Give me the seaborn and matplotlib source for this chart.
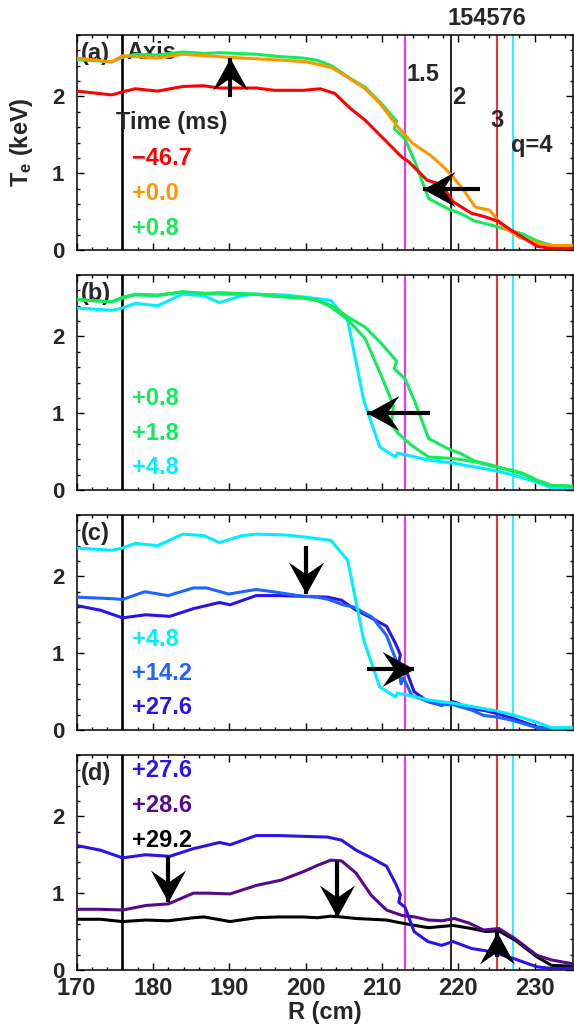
import numpy as np
import matplotlib
matplotlib.use("Agg")
import matplotlib.pyplot as plt
import seaborn as sns
from matplotlib.ticker import MultipleLocator
from matplotlib.path import Path

# ---------------- data: Te profiles vs major radius (cm, keV) ----------------
r_m467 = [170.0, 174.6, 176.0, 177.7, 180.6, 183.9, 186.6, 188.7, 193.5, 195.9, 199.7, 201.9, 203.8, 205.9,
          207.8, 210.2, 212.6, 213.5, 215.9, 217.8, 219.3, 221.7, 223.6, 225.3, 226.9, 230.3, 232.2, 235.0]
te_m467 = [2.07, 2.02, 2.06, 2.10, 2.07, 2.13, 2.14, 2.11, 2.11, 2.08, 2.08, 2.10, 2.04, 1.84,
           1.69, 1.45, 1.21, 1.15, 0.91, 0.85, 0.63, 0.48, 0.43, 0.37, 0.26, 0.05, 0.02, 0.02]

r_p00 = [170.0, 174.6, 176.0, 180.6, 183.9, 186.8, 190.1, 193.5, 197.3, 200.1, 203.3, 205.5, 207.8, 209.8,
         212.1, 214.0, 216.4, 218.3, 219.3, 220.7, 222.2, 224.1, 225.9, 227.9, 230.3, 232.2, 235.0]
te_p00 = [2.50, 2.45, 2.53, 2.50, 2.55, 2.53, 2.51, 2.49, 2.47, 2.45, 2.38, 2.25, 2.10, 1.90,
          1.60, 1.39, 1.23, 1.06, 0.95, 0.78, 0.56, 0.52, 0.30, 0.17, 0.09, 0.06, 0.06]

r_p08 = [170.0, 174.6, 176.0, 177.7, 180.6, 183.9, 186.8, 188.7, 193.5, 196.4, 199.7, 201.5, 203.4, 205.6,
         207.8, 209.9, 211.9, 211.6, 213.0, 214.3, 216.1, 218.8, 220.2, 222.1, 224.9, 226.9, 228.4, 230.3,
         232.2, 235.0]
te_p08 = [2.48, 2.45, 2.51, 2.55, 2.54, 2.58, 2.56, 2.57, 2.55, 2.52, 2.50, 2.47, 2.40, 2.25,
          2.12, 1.91, 1.68, 1.58, 1.45, 1.15, 0.67, 0.53, 0.48, 0.38, 0.31, 0.25, 0.21, 0.12,
          0.06, 0.05]

r_p18 = [170.0, 174.6, 176.0, 177.7, 180.6, 183.9, 186.8, 188.7, 193.5, 196.4, 199.7, 201.5, 203.4, 205.6,
         207.8, 209.9, 211.5, 211.2, 212.1, 213.9, 216.1, 219.3, 222.1, 224.9, 226.9, 228.4, 230.3, 232.2,
         235.0]
te_p18 = [2.48, 2.45, 2.50, 2.54, 2.53, 2.58, 2.56, 2.55, 2.55, 2.52, 2.50, 2.47, 2.38, 2.21,
          1.97, 1.49, 1.10, 0.85, 0.74, 0.58, 0.43, 0.41, 0.37, 0.30, 0.26, 0.22, 0.13, 0.06,
          0.05]

r_p48 = [170.0, 174.6, 176.0, 177.7, 180.6, 183.9, 186.7, 188.7, 191.6, 193.5, 197.3, 200.1, 203.3, 205.5,
         207.6, 209.7, 211.8, 212.0, 213.5, 216.1, 219.3, 222.1, 224.9, 227.4, 230.3, 232.2, 235.0]
te_p48 = [2.37, 2.34, 2.37, 2.43, 2.40, 2.55, 2.53, 2.44, 2.53, 2.55, 2.54, 2.51, 2.47, 2.21,
          1.17, 0.56, 0.43, 0.48, 0.45, 0.39, 0.35, 0.30, 0.25, 0.19, 0.10, 0.03, 0.03]

r_p142 = [170.0, 174.6, 176.0, 178.9, 182.0, 185.3, 187.0, 189.9, 193.5, 196.4, 199.7, 201.5, 203.0, 204.9,
          206.3, 208.7, 210.6, 212.1, 212.5, 212.8, 213.9, 216.1, 217.8, 219.3, 221.7, 223.3, 224.9, 226.9,
          230.3, 232.2, 235.0]
te_p142 = [1.73, 1.71, 1.70, 1.80, 1.75, 1.85, 1.85, 1.77, 1.83, 1.79, 1.74, 1.73, 1.70, 1.63,
           1.60, 1.47, 1.23, 0.84, 0.60, 0.68, 0.45, 0.37, 0.33, 0.33, 0.26, 0.19, 0.17, 0.13,
           0.03, 0.02, 0.02]

r_p276 = [170.0, 173.1, 176.0, 179.0, 182.2, 185.3, 188.7, 190.1, 193.5, 196.4, 199.7, 202.9, 204.7, 206.6,
          208.6, 210.6, 211.8, 212.4, 212.2, 213.0, 214.2, 216.0, 217.8, 219.3, 221.7, 223.6, 225.2, 227.2,
          230.3, 232.2, 235.0]
te_p276 = [1.62, 1.56, 1.46, 1.50, 1.48, 1.58, 1.66, 1.63, 1.75, 1.75, 1.74, 1.73, 1.69, 1.56,
           1.46, 1.35, 1.12, 0.98, 0.88, 0.82, 0.50, 0.37, 0.32, 0.37, 0.28, 0.25, 0.21, 0.15,
           0.04, 0.02, 0.02]

r_p286 = [170.0, 173.1, 176.0, 179.1, 182.0, 185.3, 187.2, 190.1, 193.5, 196.8, 199.7, 201.5, 203.3, 204.7,
          206.6, 208.6, 210.6, 212.6, 214.3, 216.1, 217.8, 219.5, 221.4, 223.3, 225.3, 227.4, 230.3, 232.2,
          235.0]
te_p286 = [0.79, 0.79, 0.78, 0.84, 0.86, 1.00, 1.00, 0.99, 1.10, 1.17, 1.28, 1.36, 1.43, 1.42,
           1.26, 0.97, 0.78, 0.71, 0.69, 0.65, 0.64, 0.67, 0.61, 0.52, 0.54, 0.41, 0.19, 0.13,
           0.08]

r_p292 = [170.0, 173.1, 176.0, 179.1, 182.0, 185.3, 186.7, 190.1, 193.5, 196.4, 199.7, 201.5, 203.3, 204.7,
          206.6, 210.6, 212.1, 214.3, 216.1, 219.3, 221.7, 223.6, 225.3, 227.4, 230.3, 232.2, 235.0]
te_p292 = [0.66, 0.66, 0.63, 0.65, 0.64, 0.68, 0.69, 0.63, 0.68, 0.69, 0.69, 0.68, 0.70, 0.69,
           0.67, 0.65, 0.62, 0.58, 0.55, 0.58, 0.54, 0.50, 0.51, 0.39, 0.17, 0.06, 0.05]

# magnetic axis and rational surfaces (cm)
r_axis = 176.0
q_surfaces = [213.0, 219.1, 225.1, 227.1]
q_colors = ["#ff00ff", "#000000", "#ff0000", "#00eeff"]

# time labels per panel (ms)
panel_times = [["\u221246.7", "+0.0", "+0.8"],
               ["+0.8", "+1.8", "+4.8"],
               ["+4.8", "+14.2", "+27.6"],
               ["+27.6", "+28.6", "+29.2"]]

profiles = {
    "\u221246.7": (r_m467, te_m467, "#ff0000"),
    "+0.0": (r_p00, te_p00, "#ff9600"),
    "+0.8": (r_p08, te_p08, "#14eb5a"),
    "+1.8": (r_p18, te_p18, "#14eb5a"),
    "+4.8": (r_p48, te_p48, "#00eeff"),
    "+14.2": (r_p142, te_p142, "#1e64ff"),
    "+27.6": (r_p276, te_p276, "#2a14ee"),
    "+28.6": (r_p286, te_p286, "#560a8a"),
    "+29.2": (r_p292, te_p292, "#000000"),
}

# label positions (R, Te) of the time lists
label_r = 177.2
label_te = [[1.19, 0.74, 0.28], [1.19, 0.74, 0.29], [1.18, 0.74, 0.29], [2.60, 2.14, 1.69]]

# arrows: (R_tail, Te_tail, R_head, Te_head)
panel_arrows = [
    [(190.1, 1.99, 190.1, 2.50), (222.9, 0.79, 215.4, 0.79)],
    [(216.3, 1.00, 208.0, 1.00)],
    [(200.1, 2.40, 200.1, 1.77), (208.0, 0.79, 214.2, 0.79)],
    [(182.0, 1.49, 182.0, 0.89), (204.1, 1.42, 204.1, 0.69), (225.1, 0.17, 225.1, 0.50)],
]
panel_tags = ["(a)", "(b)", "(c)", "(d)"]
q_labels = [("1.5", 213.2, 2.29), ("2", 219.2, 1.99), ("3", 224.2, 1.69), ("q=4", 226.9, 1.36)]

x_ticks = [170, 180, 190, 200, 210, 220, 230]
y_ticks = [0, 1, 2]

# ---------------- style ----------------
sns.set_style("ticks")
plt.rcParams["font.family"] = ["Liberation Sans", "DejaVu Sans"]
plt.rcParams["font.weight"] = "bold"
plt.rcParams["mathtext.fontset"] = "custom"
plt.rcParams["mathtext.rm"] = "Liberation Sans:bold"
plt.rcParams["mathtext.it"] = "Liberation Sans:bold"
plt.rcParams["mathtext.bf"] = "Liberation Sans:bold"

fig, axes = plt.subplots(4, 1, figsize=(5.74, 10.30), dpi=100, sharex=True)
fig.subplots_adjust(left=0.1336, right=0.998, top=0.966, bottom=0.0583, hspace=0.116)

# swept-back arrow head pointing along +x, tip at the origin
HEAD = np.array([[0.0, 0.0], [-1.0, 0.55], [-0.62, 0.0], [-1.0, -0.55], [0.0, 0.0]])


def head_marker(angle):
    c, s = np.cos(angle), np.sin(angle)
    v = HEAD @ np.array([[c, s], [-s, c]])
    return Path(v, [Path.MOVETO, Path.LINETO, Path.LINETO, Path.LINETO, Path.CLOSEPOLY])


FS = 17
for i, ax in enumerate(axes):
    ax.set_xlim(170, 235)
    ax.set_ylim(0, 2.8)

    for lab, c in zip(q_surfaces, q_colors):
        ax.axvline(lab, color=c, lw=1.2, zorder=1)
    ax.axvline(r_axis, color="black", lw=1.9, zorder=1)

    for name in panel_times[i][::-1]:
        r, te, col = profiles[name]
        sns.lineplot(x=r, y=te, ax=ax, color=col, lw=2.2, sort=False, estimator=None, zorder=3)

    for name, yt in zip(panel_times[i], label_te[i]):
        ax.text(label_r, yt, name, color=profiles[name][2], fontsize=FS, fontweight="bold",
                ha="left", va="center", zorder=5)

    for (r0, t0, r1, t1) in panel_arrows[i]:
        ax.plot([r0, r1], [t0, t1], color="black", lw=3.0, solid_capstyle="butt", zorder=6)
        p0 = ax.transData.transform((r0, t0))
        p1 = ax.transData.transform((r1, t1))
        ang = np.arctan2(p1[1] - p0[1], p1[0] - p0[0])
        ax.plot([r1], [t1], marker=head_marker(ang), markersize=46, color="black",
                markeredgewidth=0, linestyle="none", zorder=7)

    ax.text(0.008, 0.915, panel_tags[i], transform=ax.transAxes, fontsize=FS,
            fontweight="bold", ha="left", va="center", zorder=2)

    ax.set_xticks(x_ticks)
    ax.set_yticks(y_ticks)
    ax.xaxis.set_minor_locator(MultipleLocator(2))
    ax.yaxis.set_minor_locator(MultipleLocator(0.2))
    ax.tick_params(which="both", direction="in", top=True, right=True, width=1.0, color="black")
    ax.tick_params(which="major", length=5)
    ax.tick_params(which="minor", length=2.5)
    ax.tick_params(axis="y", labelsize=16, pad=9)
    ax.tick_params(axis="x", labelsize=17, pad=5)
    for sp in ax.spines.values():
        sp.set_linewidth(1.1)
        sp.set_color("black")
    ax.set_xlabel("")
    ax.set_ylabel("")
    for t in ax.get_xticklabels() + ax.get_yticklabels():
        t.set_fontweight("bold")

ax_a = axes[0]
ax_a.text(176.5, 2.57, "Axis", fontsize=FS, fontweight="bold", ha="left", va="center", zorder=2)
ax_a.text(175.2, 1.66, "Time (ms)", fontsize=FS, fontweight="bold", ha="left", va="center", zorder=5)
for txt, r, t in q_labels:
    ax_a.text(r, t, txt, fontsize=FS, fontweight="bold", ha="left", va="center", zorder=5)
ax_a.set_ylabel(r"T$_{\mathrm{e}}$ (keV)", fontsize=FS, fontweight="bold")
ax_a.yaxis.set_label_coords(-0.084, 0.5)

axes[-1].set_xlabel("R (cm)", fontsize=FS, fontweight="bold", labelpad=1)
fig.text(0.848, 0.9825, "154576", fontsize=FS, fontweight="bold", ha="center", va="center")

fig.savefig("out.png", dpi=100)
